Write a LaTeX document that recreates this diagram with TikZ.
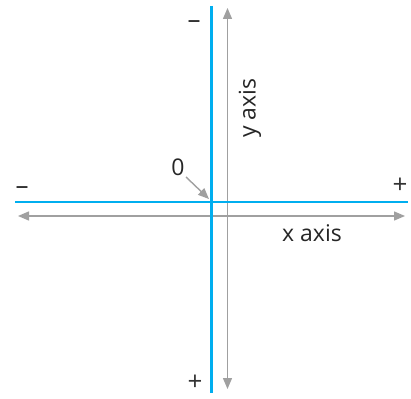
\documentclass[tikz,border=0pt]{standalone}
\usepackage{fontspec}
\setmainfont{Open Sans}
\usetikzlibrary{arrows.meta}
\definecolor{axblue}{RGB}{0,174,239}
\definecolor{axgray}{RGB}{160,160,160}
\tikzset{
  blueline/.style={axblue, line width=2.6pt},
  grayarrow/.style={axgray, line width=1.4pt, {Triangle[length=11pt,width=9pt]}-{Triangle[length=11pt,width=9pt]}},
  lbl/.style={font=\fontsize{23}{26}\selectfont, text=black!85, inner sep=0pt},
  sgn/.style={font=\fontsize{26}{28}\selectfont, text=black!80, inner sep=0pt, text height=12pt, text depth=0pt}
}
\begin{document}
\begin{tikzpicture}[x=1pt,y=-1pt]
\useasboundingbox (0,0) rectangle (411,398);
% coordinates
\coordinate (bvt) at (211.5,6);
\coordinate (bvb) at (211.5,393);
\coordinate (bhl) at (15,202);
\coordinate (bhr) at (408,202);
\coordinate (gvt) at (227.5,8);
\coordinate (gvb) at (227.5,389);
\coordinate (ghl) at (18,216);
\coordinate (ghr) at (405,216);
% lines
\draw[grayarrow] (gvb) -- (gvt);
\draw[grayarrow] (ghl) -- (ghr);
\draw[blueline] (bvt) -- (bvb);
\draw[blueline] (bhl) -- (bhr);
% labels
\node[sgn] (mtop) at (194,23) {–};
\node[sgn] (pbot) at (195,384) {+};
\node[sgn] (mleft) at (22,188) {–};
\node[sgn] (pright) at (400,187) {+};
\node[lbl] (zero) at (178,167) {0};
\coordinate (origin) at (209,199);
\draw[axgray, line width=1.4pt, -{Triangle[length=11pt,width=9pt]}] (186,177) -- (origin);
\node[lbl, rotate=90] (ylab) at (250,108) {y axis};
\node[lbl] (xlab) at (312,233) {x axis};
\end{tikzpicture}
\end{document}
